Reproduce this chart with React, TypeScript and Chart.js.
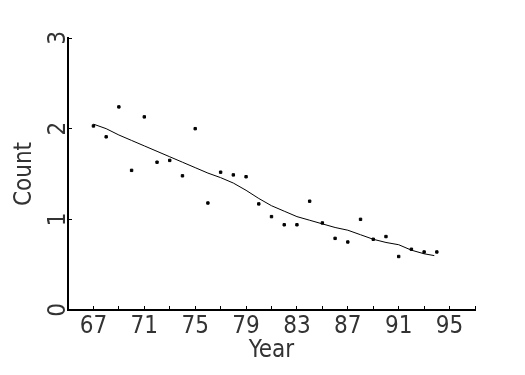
import React, { useEffect, useRef } from "react";
import { Chart, registerables } from "chart.js";

Chart.register(...registerables);

const years = [67, 68, 69, 70, 71, 72, 73, 74, 75, 76, 77, 78, 79, 80, 81, 82, 83, 84, 85, 86, 87, 88, 89, 90, 91, 92, 93, 94];
const counts = [2.03, 1.91, 2.24, 1.54, 2.13, 1.63, 1.65, 1.48, 2.0, 1.18, 1.52, 1.49, 1.47, 1.17, 1.03, 0.94, 0.94, 1.2, 0.96, 0.79, 0.75, 1.0, 0.78, 0.81, 0.59, 0.67, 0.64, 0.64];
const smoothYears = [67, 68, 69, 70, 71, 72, 73, 74, 75, 76, 77, 78, 79, 80, 81, 82, 83, 84, 85, 86, 87, 88, 89, 90, 91, 92, 93, 93.8];
const smoothCounts = [2.05, 2.0, 1.93, 1.87, 1.81, 1.75, 1.69, 1.63, 1.57, 1.51, 1.46, 1.4, 1.32, 1.23, 1.15, 1.09, 1.03, 0.99, 0.95, 0.91, 0.88, 0.83, 0.78, 0.745, 0.72, 0.66, 0.62, 0.6];
const xLabelYears = [67, 71, 75, 79, 83, 87, 91, 95];
const yTicks = [0, 1, 2, 3];

const FONT = "'Liberation Sans Narrow', 'DejaVu Sans Condensed', 'Liberation Sans', sans-serif";
const TXT = "#333";

export default function App() {
  const ref = useRef<HTMLCanvasElement | null>(null);
  useEffect(() => {
    if (!ref.current) return;
    const chart = new Chart(ref.current, {
      type: "scatter",
      data: {
        datasets: [
          {
            data: years.map((y, i) => ({ x: y, y: counts[i] })),
            backgroundColor: "#000",
            borderColor: "#000",
            pointStyle: "rect",
            pointRadius: 1.7,
            showLine: false,
          },
          {
            data: smoothYears.map((y, i) => ({ x: y, y: smoothCounts[i] })),
            borderColor: "#000",
            borderWidth: 1,
            pointRadius: 0,
            showLine: true,
            tension: 0,
          },
        ],
      },
      options: {
        responsive: false,
        animation: false,
        layout: { padding: { top: 38, right: 50, left: 0, bottom: 0 } },
        plugins: { legend: { display: false }, tooltip: { enabled: false } },
        scales: {
          x: {
            type: "linear",
            min: 65,
            max: 97,
            afterFit: (s: any) => { s.height = 65; },
            afterBuildTicks: (s: any) => {
              const t = [];
              for (let v = 65; v <= 97; v += 2) t.push({ value: v });
              s.ticks = t;
            },
            ticks: {
              color: TXT,
              font: { family: FONT, size: 24 },
              padding: 6,
              maxRotation: 0,
              autoSkip: false,
              callback: (v: any) => (xLabelYears.includes(Number(v)) ? String(v) : ""),
            },
            grid: { drawOnChartArea: false, drawTicks: true, tickLength: -4, color: "#000", lineWidth: 1 },
            border: { display: true, color: "#000", width: 2 },
            title: { display: true, text: "Year", color: TXT, font: { family: FONT, size: 24 }, padding: { top: 0, bottom: 10 } },
          },
          y: {
            type: "linear",
            min: 0,
            max: 3,
            afterFit: (s: any) => { s.width = 68; },
            afterBuildTicks: (s: any) => { s.ticks = yTicks.map((v) => ({ value: v })); },
            ticks: {
              color: TXT,
              font: { family: FONT, size: 24 },
              minRotation: 90,
              maxRotation: 90,
              crossAlign: "center",
              padding: 6,
            },
            grid: { drawOnChartArea: false, drawTicks: true, tickLength: -4, color: "#000", lineWidth: 1 },
            border: { display: true, color: "#000", width: 2 },
            title: { display: true, text: "Count", color: TXT, font: { family: FONT, size: 24 }, padding: { top: 10, bottom: 0 } },
          },
        },
      },
    });
    return () => chart.destroy();
  }, []);
  return (
    <div style={{ position: "fixed", left: 0, top: 0, width: 525, height: 375, background: "#fff" }}>
      <canvas ref={ref} width={525} height={375} style={{ width: 525, height: 375 }} />
    </div>
  );
}
